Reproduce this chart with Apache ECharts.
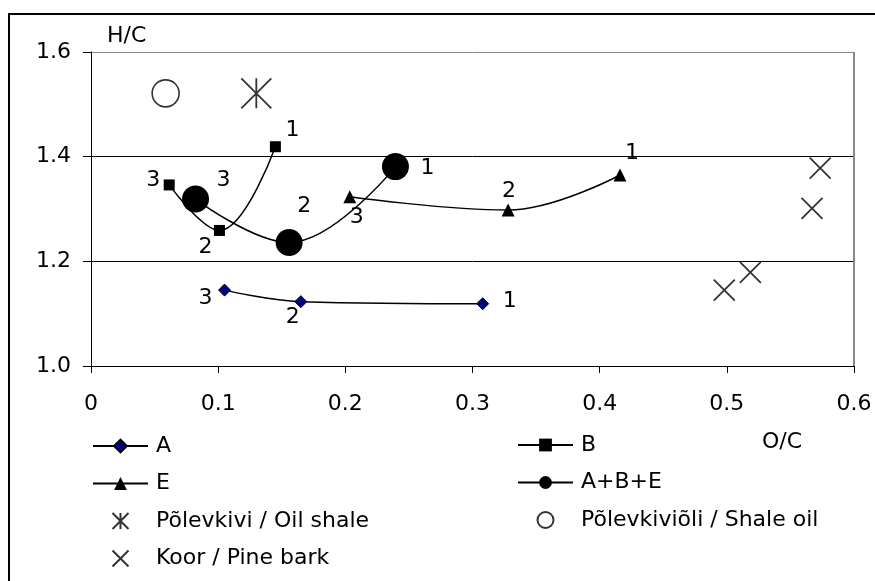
<!DOCTYPE html>
<html>
<head>
<meta charset="utf-8">
<script src="https://cdn.jsdelivr.net/npm/echarts@6/dist/echarts.min.js"></script>
<style>
html,body{margin:0;padding:0;background:#fff;}
#chart{width:875px;height:581px;}
</style>
</head>
<body>
<div id="chart"></div>
<script>
// ---- data ----
const xA = [0.308, 0.165, 0.105];
const yA = [1.119, 1.123, 1.145];
const labelsA = ['1', '2', '3'];

const xB = [0.145, 0.101, 0.0615];
const yB = [1.419, 1.259, 1.346];
const labelsB = ['1', '2', '3'];

const xE = [0.416, 0.328, 0.2035];
const yE = [1.365, 1.298, 1.3235];
const labelsE = ['1', '2', '3'];

const xABE = [0.2394, 0.1558, 0.0822];
const yABE = [1.381, 1.236, 1.319];
const labelsABE = ['1', '2', '3'];

const xOilShale = [0.130];
const yOilShale = [1.521];
const xShaleOil = [0.0587];
const yShaleOil = [1.521];
const xBark = [0.5734, 0.567, 0.5185, 0.498];
const yBark = [1.378, 1.301, 1.179, 1.145];

const seriesNames = ['A', 'B', 'E', 'A+B+E', 'Põlevkivi / Oil shale', 'Põlevkiviõli / Shale oil', 'Koor / Pine bark'];
const xTickLabels = ['0', '0.1', '0.2', '0.3', '0.4', '0.5', '0.6'];
const yTickLabels = ['1.0', '1.2', '1.4', '1.6'];
const xAxisTitle = 'O/C';
const yAxisTitle = 'H/C';

// ---- label placement (style, not data) ----
const offA = [[27, -2], [-8, 16], [-19, 8]];
const offB = [[17, -16], [-14, 17], [-16, -5]];
const offE = [[12, -22], [1, -19], [7, 21]];
const offABE = [[32, 2], [15, -36], [28, -19]];

const FONT = '"DejaVu Sans", "Liberation Sans", Arial, sans-serif';
const FS = 22;

function pts(xs, ys, labels, offs) {
  return xs.map((x, i) => {
    const d = { value: [x, ys[i]] };
    if (labels) {
      d.label = {
        show: true, position: 'inside', offset: offs[i],
        formatter: labels[i], color: '#000', fontSize: FS, fontFamily: FONT
      };
    }
    return d;
  });
}

const lineStyle = { color: '#000', width: 1.5 };
const crossPath = 'path://M0,0 L10,10 M10,0 L0,10';
const starPath = 'path://M0,0 L10,10 M10,0 L0,10 M5,0 L5,10';

const chart = echarts.init(document.getElementById('chart'), null, { renderer: 'canvas' });
chart.setOption({
  animation: false,
  backgroundColor: '#fff',
  textStyle: { fontFamily: FONT },
  grid: { left: 91, top: 52, right: 21, bottom: 215, containLabel: false },
  graphic: [
    { type: 'rect', shape: { x: 9, y: 14, width: 900, height: 600 },
      style: { fill: 'none', stroke: '#000', lineWidth: 2 }, silent: true, z: -1 }
  ],
  xAxis: {
    type: 'value', min: 0, max: 0.6, interval: 0.1,
    name: xAxisTitle, nameLocation: 'end', nameGap: -92,
    nameTextStyle: { fontSize: FS, color: '#000', fontFamily: FONT, align: 'left', verticalAlign: 'top', padding: [65, 0, 0, 0] },
    axisLine: { show: true, onZero: false, lineStyle: { color: '#000', width: 1 } },
    axisTick: { show: true, inside: false, length: 7, lineStyle: { color: '#000' } },
    axisLabel: {
      fontSize: FS, color: '#000', fontFamily: FONT, margin: 27,
      formatter: v => xTickLabels[Math.round(v / 0.1)]
    },
    splitLine: { show: true, lineStyle: { color: ['transparent', 'transparent', 'transparent', 'transparent', 'transparent', 'transparent', '#888'], width: 2 } }
  },
  yAxis: {
    type: 'value', min: 1.0, max: 1.6, interval: 0.2,
    name: yAxisTitle, nameLocation: 'end', nameGap: 16,
    nameTextStyle: { fontSize: FS, color: '#000', fontFamily: FONT, align: 'left', verticalAlign: 'middle', padding: [0, 0, 0, 16] },
    axisLine: { show: true, onZero: false, lineStyle: { color: '#000', width: 1 } },
    axisTick: { show: true, inside: false, length: 8, lineStyle: { color: '#000' } },
    axisLabel: {
      fontSize: FS, color: '#000', fontFamily: FONT, margin: 20,
      formatter: v => yTickLabels[Math.round((v - 1.0) / 0.2)]
    },
    splitLine: { show: true, lineStyle: { color: ['#000', '#000', '#000', '#888'], width: [1] } }
  },
  legend: [
    {
      orient: 'vertical', left: 92, top: 434, padding: 0, itemWidth: 55, itemHeight: 16, itemGap: 13.5,
      textStyle: { fontSize: FS, color: '#000', fontFamily: FONT, lineHeight: 24, padding: [0, 0, 0, 3] },
      data: [seriesNames[0], seriesNames[2], seriesNames[4], seriesNames[6]],
      selectedMode: false
    },
    {
      orient: 'vertical', left: 517, top: 433, padding: 0, itemWidth: 55, itemHeight: 16, itemGap: 13.5,
      textStyle: { fontSize: FS, color: '#000', fontFamily: FONT, lineHeight: 24, padding: [0, 0, 0, 3] },
      data: [seriesNames[1], seriesNames[3], seriesNames[5]],
      selectedMode: false
    }
  ],
  series: [
    {
      name: seriesNames[0], type: 'line', smooth: 0.4, data: pts(xA, yA, labelsA, offA),
      symbol: 'diamond', symbolSize: 12,
      itemStyle: { color: '#000080', borderColor: '#000', borderWidth: 1 },
      lineStyle: lineStyle, emphasis: { disabled: true }
    },
    {
      name: seriesNames[1], type: 'line', smooth: 0.4, data: pts(xB, yB, labelsB, offB),
      symbol: 'rect', symbolSize: 11,
      itemStyle: { color: '#000' }, lineStyle: lineStyle, emphasis: { disabled: true }
    },
    {
      name: seriesNames[2], type: 'line', smooth: 0.4, data: pts(xE, yE, labelsE, offE),
      symbol: 'triangle', symbolSize: 13,
      itemStyle: { color: '#000' }, lineStyle: lineStyle, emphasis: { disabled: true }
    },
    {
      name: seriesNames[3], type: 'line', smooth: 0.4, data: pts(xABE, yABE, labelsABE, offABE),
      symbol: 'circle', symbolSize: 27,
      itemStyle: { color: '#000' }, lineStyle: lineStyle, emphasis: { disabled: true }
    },
    {
      name: seriesNames[4], type: 'scatter', data: pts(xOilShale, yOilShale),
      symbol: starPath, symbolSize: 30,
      itemStyle: { color: 'transparent', borderColor: '#000', borderWidth: 1.8 },
      emphasis: { disabled: true }
    },
    {
      name: seriesNames[5], type: 'scatter', data: pts(xShaleOil, yShaleOil),
      symbol: 'circle', symbolSize: 27,
      itemStyle: { color: '#fff', borderColor: '#000', borderWidth: 1.6 },
      emphasis: { disabled: true }
    },
    {
      name: seriesNames[6], type: 'scatter', data: pts(xBark, yBark),
      symbol: crossPath, symbolSize: 21,
      itemStyle: { color: 'transparent', borderColor: '#000', borderWidth: 1.8 },
      emphasis: { disabled: true }
    }
  ]
});
</script>
</body>
</html>
